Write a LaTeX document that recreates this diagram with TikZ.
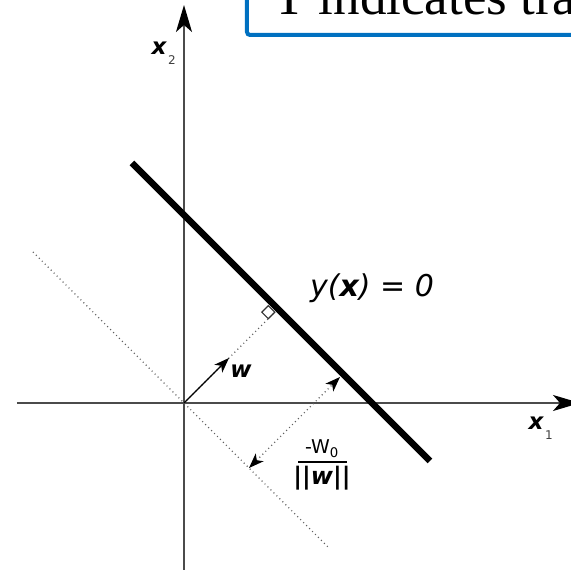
\documentclass[tikz,border=0pt]{standalone}
\usepackage{fontspec}
\newfontfamily\lblfont{DejaVu Sans}
\newfontfamily\capfont{Liberation Serif}
\usetikzlibrary{arrows.meta,calc}
\definecolor{axisgray}{RGB}{75,75,75}
\definecolor{dotgray}{RGB}{95,95,95}
\definecolor{boxblue}{RGB}{0,112,192}

\begin{document}
\begin{tikzpicture}[x=1pt,y=1pt,
    axis/.style={axisgray,line width=1.7pt,-{Stealth[length=27pt,width=16pt,inset=7pt,black]}},
    boundary/.style={line width=6.5pt},
    guide/.style={dotgray,line width=1.1pt,dash pattern=on 1pt off 3.2pt},
    vec/.style={line width=1.3pt,-{Stealth[length=15pt,width=11pt,inset=4pt]}},
    gap/.style={guide,{Stealth[length=15pt,width=11pt,inset=4pt,black]}-{Stealth[length=15pt,width=11pt,inset=4pt,black]}},
    lbl/.style={font=\lblfont\fontsize{23}{25}\selectfont\bfseries\itshape,inner sep=0pt},
    sub/.style={font=\lblfont\fontsize{12}{13}\selectfont,text=black!75,inner sep=0pt}
]
\useasboundingbox (-184,-167) rectangle (387,403);
\clip (-184,-167) rectangle (387,403);

\coordinate (O) at (0,0);
\coordinate (xstart) at (-167,0);
\coordinate (xend) at (396,0);
\coordinate (ystart) at (0,-170);
\coordinate (yend) at (0,398);

% axes
\draw[axis] (xstart) -- (xend);
\draw[axis] (ystart) -- (yend);

% decision boundary and its parallel through the origin
\coordinate (b1) at (-52,240);
\coordinate (b2) at (246,-58);
\coordinate (p1) at (-151,151);
\coordinate (p2) at (145,-145);
\draw[guide] (p1) -- (p2);
\draw[boundary] (b1) -- (b2);

% normal direction, foot and right angle
\coordinate (F) at (94,94);
\coordinate (M) at ($(F)!4.5pt!(O)$);
\draw[guide] (O) -- (M);
\draw[line width=1.1pt,black!80] (M) -- ++(-6.5,-6.5) -- ++(-6.5,6.5) -- ++(6.5,6.5) -- cycle;
\coordinate (wtip) at (45,45);
\draw[vec] (O) -- (wtip);

% offset
\coordinate (q1) at (65,-65);
\coordinate (q2) at (156,26);
\draw[gap] (q1) -- (q2);

% labels
\node[lbl] (wlbl) at (57,32) {w};
\node[lbl] (x2lbl) at (-25,355) {x};
\node[sub] (x2sub) at (-12,343) {2};
\node[lbl] (x1lbl) at (352,-20) {x};
\node[sub] (x1sub) at (365,-32) {1};
\node[font=\lblfont\fontsize{30}{32}\selectfont\itshape,inner sep=0pt] (eq) at (188,115) {y(\textbf{x}) = 0};

% the fraction -w0/||w||
\node[font=\lblfont\fontsize{19}{20}\selectfont,inner sep=0pt] (num) at (138,-46) {-W\textsubscript{0}};
\node[font=\lblfont\fontsize{24}{25}\selectfont\bfseries,inner sep=0pt] (den) at (138,-75) {||\textit{w}||};
\coordinate (barL) at (114,-59);
\coordinate (barR) at (163,-59);
\draw[line width=2pt] (barL) -- (barR);

% caption box, cut by the frame
\draw[boxblue,line width=4pt,rounded corners=3pt] (63,368) rectangle (430,440);
\node[font=\capfont\fontsize{53}{60}\selectfont,anchor=base west,inner sep=0pt] (note) at (89,388) {T indicates tra};
\end{tikzpicture}
\end{document}
